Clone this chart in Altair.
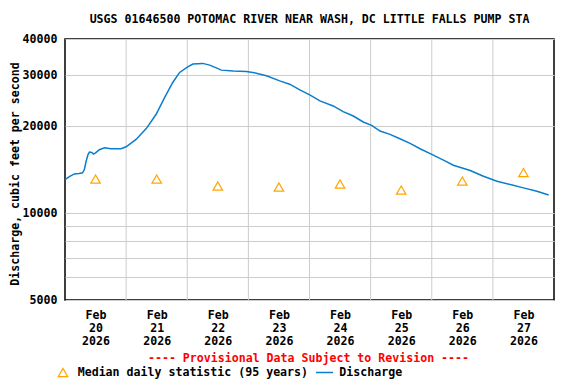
import altair as alt
import pandas as pd

TITLE = "USGS 01646500 POTOMAC RIVER NEAR WASH, DC LITTLE FALLS PUMP STA"
Y_TITLE = "Discharge, cubic feet per second"
PROVISIONAL = "---- Provisional Data Subject to Revision ----"
LEG_MEDIAN = "Median daily statistic (95 years)"
LEG_Q = "Discharge"

# discharge series: hours after 2026-02-20 00:00, and flow (cfs)
hours = [0.0, 1.7, 3.7, 5.5, 6.9, 7.6, 8.3, 9.0, 9.6, 10.5, 11.2, 12.0, 13.5, 15.5,
         18.0, 22.0, 24.0, 27.9, 31.9, 35.8, 39.1, 42.3, 45.0, 48.2, 50.2, 54.1,
         56.8, 59.4, 61.4, 66.0, 71.2, 75.1, 79.1, 84.3, 88.2, 92.2, 96.1, 100.1,
         105.3, 109.2, 113.2, 117.1, 120.4, 123.7, 127.6, 131.5, 135.5, 139.4,
         144.0, 148.6, 152.5, 159.1, 164.3, 169.6, 174.8, 180.0, 185.3, 189.9]
flows = [13050, 13370, 13650, 13700, 13780, 14140, 15100, 15900, 16250, 16200,
         15980, 16150, 16550, 16820, 16700, 16700, 16950, 17975, 19585, 21955,
         25090, 28285, 30650, 32050, 32750, 32935, 32490, 31795, 31215, 31000,
         30890, 30470, 29830, 28655, 27910, 26665, 25620, 24420, 23465, 22435,
         21660, 20645, 20110, 19210, 18710, 18075, 17410, 16690, 15945, 15235,
         14635, 14030, 13405, 12880, 12545, 12215, 11890, 11550]

median_days = [20, 21, 22, 23, 24, 25, 26, 27]
median_vals = [13100, 13100, 12400, 12300, 12600, 12000, 12900, 13800]

grid_days = [21, 22, 23, 24, 25, 26, 27]
y_ticks = [5000, 6000, 7000, 8000, 9000, 10000, 20000, 30000, 40000]
y_labeled = [5000, 10000, 20000, 30000, 40000]

base = pd.Timestamp("2026-02-20 00:00")
q_df = pd.DataFrame({
    "time": [(base + pd.Timedelta(hours=h)).strftime("%Y-%m-%dT%H:%M:%S") for h in hours],
    "flow": flows,
})
m_df = pd.DataFrame({
    "time": [f"2026-02-{d:02d}T12:00:00" for d in median_days],
    "flow": median_vals,
})
g_df = pd.DataFrame({"time": [f"2026-02-{d:02d}T00:00:00" for d in grid_days]})

FONT = "DejaVu Sans Mono"
FS = 11.6

x_scale = alt.Scale(domain=[alt.DateTime(year=2026, month=2, date=20, hours=0),
                            alt.DateTime(year=2026, month=2, date=28, hours=0)])
y_scale = alt.Scale(type="log", domain=[5000, 40000], nice=False)

x_axis = alt.Axis(
    values=[alt.DateTime(year=2026, month=2, date=d, hours=12) for d in median_days],
    labelExpr="[timeFormat(datum.value, '%b'), timeFormat(datum.value, '%d'), timeFormat(datum.value, '%Y')]",
    grid=False, ticks=False, domain=False, title=None,
    labelFont=FONT, labelFontSize=FS, labelFontWeight="bold", labelColor="black",
    labelPadding=9, labelLineHeight=13, labelFlush=False, labelOverlap=False,
)
lab_test = " || ".join(f"datum.value == {v}" for v in y_labeled)
y_axis = alt.Axis(
    values=y_ticks,
    labelExpr=f"({lab_test}) ? format(datum.value, 'd') : ''",
    grid=True, gridColor="#cccccc", gridWidth=1, ticks=False, domain=False, title=None,
    labelFont=FONT, labelFontSize=FS, labelFontWeight="bold", labelColor="black",
    labelPadding=8, labelOverlap=False, labelFlush=False,
)

x_enc = alt.X("time:T", scale=x_scale, axis=x_axis)
y_enc = alt.Y("flow:Q", scale=y_scale, axis=y_axis)

grid = alt.Chart(g_df).mark_rule(color="#cccccc", strokeWidth=1).encode(
    x=alt.X("time:T", scale=x_scale, axis=x_axis)
)
line = alt.Chart(q_df).mark_line(color="#0a7dcc", strokeWidth=1.5, interpolate="linear").encode(
    x=x_enc, y=y_enc
)
pts = alt.Chart(m_df).mark_point(shape="triangle-up", filled=False, color="#ffa500",
                                 size=90, strokeWidth=1.2, opacity=1).encode(
    x=x_enc, y=y_enc
)

def txt(s, x, y, color="black", align="center", angle=0):
    return alt.Chart(pd.DataFrame({"t": [s]})).mark_text(
        font=FONT, fontSize=FS, fontWeight="bold", color=color, align=align,
        baseline="middle", angle=angle,
    ).encode(x=alt.value(x), y=alt.value(y), text="t:N")

title = txt(TITLE, 244.5, -19)
ytitle = txt(Y_TITLE, -49, 135, angle=270)
prov = txt(PROVISIONAL, 243.5, 320, color="#ff0000")
leg1 = txt(LEG_MEDIAN, 12.7, 333.5, align="left")
leg2 = txt(LEG_Q, 274.3, 333.5, align="left")
leg_tri = alt.Chart(pd.DataFrame({"k": ["m"]})).mark_point(
    shape="triangle-up", filled=False, color="#ffa500", size=90, strokeWidth=1.2, opacity=1
).encode(x=alt.value(-2), y=alt.value(333.5))
leg_line = alt.Chart(pd.DataFrame({"k": ["q"]})).mark_rule(color="#0a7dcc", strokeWidth=1.5).encode(
    x=alt.value(251), x2=alt.value(268), y=alt.value(333.5)
)

chart = alt.layer(grid, line, pts, title, ytitle, prov, leg1, leg2, leg_tri, leg_line).properties(
    width=489, height=261,
    autosize=alt.AutoSizeParams(type="none"),
    padding={"left": 57, "top": 31, "right": 14, "bottom": 84},
).configure_view(stroke="black", strokeWidth=1.5)

chart.save("out.html", embed_options={"renderer": "svg", "actions": False})
